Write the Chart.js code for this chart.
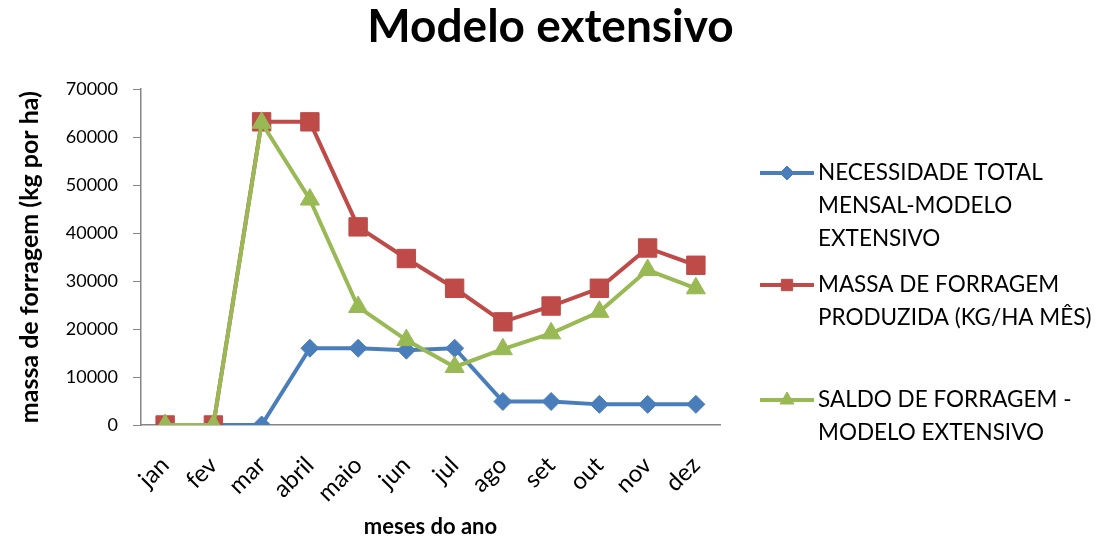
<!DOCTYPE html>
<html>
<head>
<meta charset="utf-8">
<script src="https://cdn.jsdelivr.net/npm/chart.js@4/dist/chart.umd.min.js"></script>
<style>
  html, body { margin: 0; padding: 0; background: #ffffff; }
  #wrap { width: 1101px; height: 541px; }
</style>
</head>
<body>
<div id="wrap"><canvas id="c" width="1101" height="541"></canvas></div>
<script>
// Monthly forage figures, kg per ha
const months = ['jan', 'fev', 'mar', 'abril', 'maio', 'jun', 'jul', 'ago', 'set', 'out', 'nov', 'dez'];
const necessidade = [0, 0, 0, 16000, 16000, 15600, 16000, 4900, 4900, 4300, 4300, 4300];
const massaProduzida = [0, 0, 63200, 63200, 41300, 34700, 28500, 21500, 24800, 28500, 36900, 33300];
const saldo = [0, 0, 63000, 47000, 24600, 17700, 12100, 15800, 19100, 23600, 32300, 28500];
const yTicks = [0, 10000, 20000, 30000, 40000, 50000, 60000, 70000];
const seriesNames = [
  ['NECESSIDADE TOTAL', 'MENSAL-MODELO', 'EXTENSIVO'],
  ['MASSA DE FORRAGEM', 'PRODUZIDA (KG/HA MÊS)'],
  ['SALDO DE FORRAGEM -', 'MODELO EXTENSIVO']
];

const FONT = 'Lato, "Open Sans", "Liberation Sans", sans-serif';
const BLUE = '#4a7ebb', RED = '#be4b48', GREEN = '#98b954';

// Legend drawn at the right of the plot, one block of wrapped lines per series
const sideLegend = {
  id: 'sideLegend',
  afterDraw(chart) {
    const ctx = chart.ctx;
    const blockTop = [173, 285, 400];
    const lineGap = 33;
    const markerR = [7, 8, 8];
    ctx.save();
    chart.data.datasets.forEach((ds, i) => {
      const y = blockTop[i];
      ctx.strokeStyle = ds.borderColor;
      ctx.lineWidth = 4;
      ctx.beginPath();
      ctx.moveTo(760, y);
      ctx.lineTo(814, y);
      ctx.stroke();
      ctx.fillStyle = ds.backgroundColor;
      ctx.strokeStyle = ds.borderColor;
      ctx.lineWidth = 1;
      Chart.helpers.drawPoint(ctx, { pointStyle: ds.pointStyle, radius: markerR[i], borderWidth: 1 }, 787, y);
      ctx.fillStyle = '#000000';
      ctx.font = '22.5px ' + FONT;
      ctx.textBaseline = 'middle';
      ctx.textAlign = 'left';
      seriesNames[i].forEach((line, k) => ctx.fillText(line, 818, y + k * lineGap));
    });
    ctx.restore();
  }
};

new Chart(document.getElementById('c'), {
  type: 'line',
  data: {
    labels: months,
    datasets: [
      {
        label: seriesNames[0].join(' '),
        data: necessidade,
        borderColor: BLUE, backgroundColor: BLUE,
        pointStyle: 'rectRot', pointRadius: 9, pointBorderWidth: 1,
        borderWidth: 4, tension: 0, order: 3
      },
      {
        label: seriesNames[1].join(' '),
        data: massaProduzida,
        borderColor: RED, backgroundColor: RED,
        pointStyle: 'rect', pointRadius: 13, pointBorderWidth: 1,
        borderWidth: 4, tension: 0, order: 2
      },
      {
        label: seriesNames[2].join(' '),
        data: saldo,
        borderColor: GREEN, backgroundColor: GREEN,
        pointStyle: 'triangle', pointRadius: 11, pointBorderWidth: 1,
        borderWidth: 4, tension: 0, order: 1
      }
    ]
  },
  options: {
    responsive: false,
    animation: false,
    devicePixelRatio: 1,
    layout: { padding: 0 },
    plugins: {
      legend: { display: false },
      tooltip: { enabled: false },
      title: {
        display: true,
        text: 'Modelo extensivo',
        color: '#000000',
        font: { family: FONT, size: 46, weight: 'bold' },
        padding: { top: 0, bottom: 34 }
      }
    },
    scales: {
      x: {
        offset: true,
        border: { display: true, color: '#868686', width: 1.5 },
        grid: { display: false, drawTicks: false },
        ticks: {
          color: '#000000', font: { family: FONT, size: 24 },
          minRotation: 45, maxRotation: 45, padding: 26
        },
        title: {
          display: true, text: 'meses do ano', color: '#000000',
          font: { family: FONT, size: 22, weight: 'bold' },
          padding: { top: 0, bottom: 1 }
        },
        afterFit(scale) { scale.height = 116; }
      },
      y: {
        min: 0, max: 70000,
        afterBuildTicks(scale) { scale.ticks = yTicks.map(v => ({ value: v })); },
        border: { display: true, color: '#868686', width: 1.5 },
        grid: { drawOnChartArea: false, drawTicks: true, tickLength: 8, color: '#868686' },
        ticks: {
          color: '#000000', font: { family: FONT, size: 18 }, padding: 15,
          callback: v => String(v)
        },
        title: {
          display: true, text: 'massa de forragem (kg por ha)', color: '#000000',
          font: { family: FONT, size: 25, weight: 'bold' },
          padding: { top: 15, bottom: 0 }
        },
        afterFit(scale) { scale.width = 141; }
      },
      // empty band on the right that holds the series legend
      legendSpace: {
        type: 'linear',
        position: 'right',
        display: true,
        border: { display: false },
        grid: { display: false, drawTicks: false },
        ticks: { display: false },
        afterFit(scale) { scale.width = 381; }
      }
    }
  },
  plugins: [sideLegend]
});
</script>
</body>
</html>
